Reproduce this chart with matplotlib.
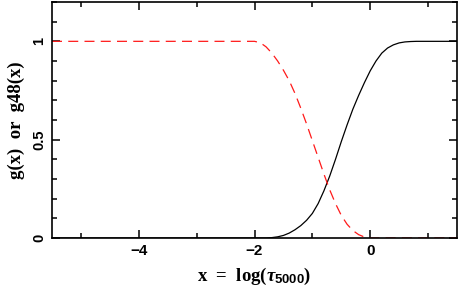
import matplotlib
matplotlib.use("Agg")
import matplotlib.pyplot as plt
from matplotlib.ticker import MultipleLocator, FixedLocator

# g(x): black solid curve
g_x = [-5.5, -1.8, -1.7, -1.6, -1.5, -1.4, -1.3, -1.2, -1.1, -1.0, -0.9, -0.8, -0.7,
       -0.6, -0.5, -0.4, -0.3, -0.2, -0.1, 0.0, 0.1, 0.2, 0.3, 0.4, 0.5, 0.6, 0.7, 0.8, 1.5]
g_y = [0.0, 0.0, 0.002, 0.006, 0.013, 0.025, 0.042, 0.063, 0.09, 0.125, 0.175, 0.24, 0.315,
       0.40, 0.49, 0.575, 0.655, 0.725, 0.79, 0.85, 0.90, 0.94, 0.966, 0.982, 0.992, 0.997, 0.999, 1.0, 1.0]

# g48(x): red dashed curve
g48_x = [-5.5, -2.0, -1.9, -1.8, -1.7, -1.6, -1.5, -1.4, -1.3, -1.2, -1.1, -1.0, -0.9,
         -0.8, -0.7, -0.6, -0.5, -0.4, -0.3, -0.2, -0.1, 0.0, 1.5]
g48_y = [1.0, 1.0, 0.993, 0.972, 0.94, 0.90, 0.853, 0.80, 0.735, 0.66, 0.58, 0.495, 0.41,
         0.325, 0.245, 0.175, 0.115, 0.07, 0.038, 0.017, 0.005, 0.0, 0.0]

x_major = [-4, -2, 0]
x_labels = ["\u22124", "\u22122", "0"]
y_major = [0, 0.5, 1]
y_labels = ["0", "0.5", "1"]

plt.rcParams['font.family'] = ['Liberation Sans', 'DejaVu Sans']
plt.rcParams['mathtext.fontset'] = 'custom'
plt.rcParams['mathtext.rm'] = 'Liberation Serif:bold'
plt.rcParams['mathtext.bf'] = 'Liberation Serif:bold'
plt.rcParams['mathtext.it'] = 'Liberation Serif:bold:italic'
plt.rcParams['mathtext.sf'] = 'Liberation Sans:bold'

fig = plt.figure(figsize=(4.58, 2.94), dpi=100)
ax = fig.add_axes([52/458, 1-238/294, (457-52)/458, (238-2)/294])

ax.plot(g_x, g_y, color='black', lw=0.9)
ax.plot(g48_x, g48_y, color='#ff1a1a', lw=0.9, dashes=(8, 5))

ax.set_xlim(-5.5, 1.5)
ax.set_ylim(0, 1.2)
ax.xaxis.set_major_locator(FixedLocator(x_major))
ax.xaxis.set_minor_locator(MultipleLocator(1))
ax.yaxis.set_major_locator(FixedLocator(y_major))
ax.yaxis.set_minor_locator(MultipleLocator(0.1))
ax.set_xticklabels(x_labels, fontweight='bold', fontsize=11)
ax.set_yticklabels(y_labels, fontweight='bold', fontsize=10.5, rotation=90, va='center')

ax.tick_params(which='both', direction='in', top=True, right=True, width=1.1, pad=4)
ax.tick_params(which='major', length=6)
ax.tick_params(which='minor', length=3.5)
for s in ax.spines.values():
    s.set_linewidth(1.2)

ax.set_xlabel(r"x  =  log($\it{\tau}_{\mathsf{5000}}$)", fontsize=13.5, fontweight='bold',
              family='Liberation Serif', labelpad=6)
ax.set_ylabel("g(x)  or  g48(x)", fontsize=13.5, fontweight='bold',
              family='Liberation Serif', labelpad=5)

fig.savefig("out.png", dpi=100)
